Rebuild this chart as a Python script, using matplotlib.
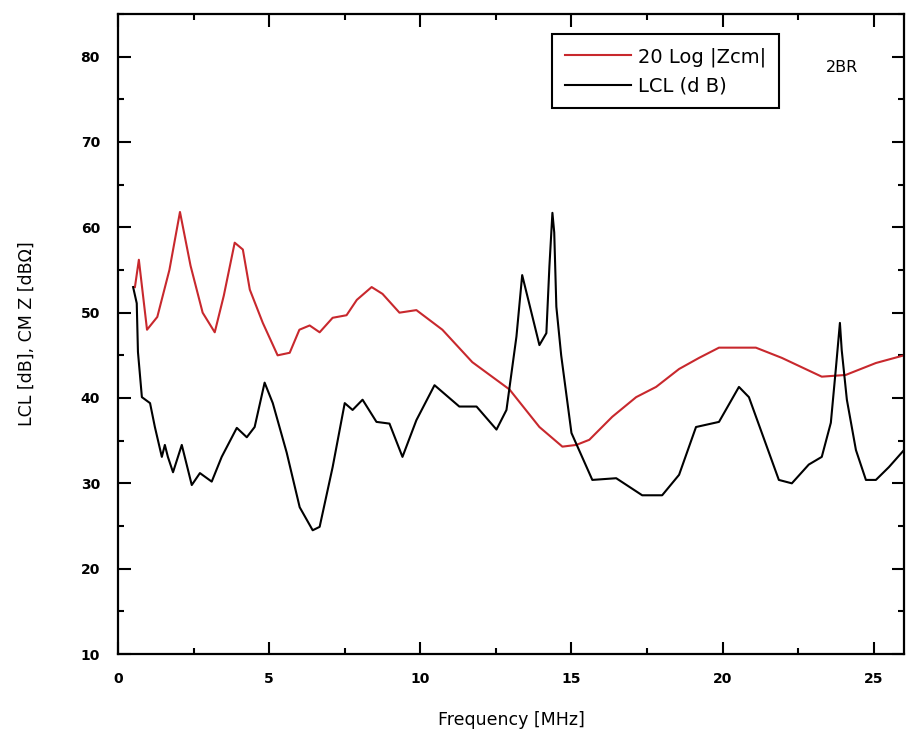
import matplotlib
matplotlib.use("Agg")
import matplotlib.pyplot as plt
from matplotlib.ticker import MultipleLocator

# 20 Log |Zcm| (red)
zcm_freq = [0.56, 0.69, 0.96, 1.3, 1.7, 2.05, 2.4, 2.8, 3.2, 3.5, 3.86, 4.13, 4.36, 4.79,
            5.28, 5.68, 6.0, 6.34, 6.67, 7.1, 7.56, 7.9, 8.39, 8.75, 9.31, 9.87, 10.73,
            11.72, 12.95, 13.94, 14.7, 15.16, 15.59, 16.35, 17.14, 17.8, 18.56, 19.22,
            19.88, 21.1, 21.96, 22.62, 23.28, 24.07, 25.07, 26.0]
zcm_db = [53.0, 56.2, 48.0, 49.5, 55.0, 61.8, 55.5, 50.0, 47.7, 52.0, 58.2, 57.4, 52.7, 48.8,
          45.0, 45.3, 48.0, 48.5, 47.7, 49.4, 49.7, 51.5, 53.0, 52.2, 50.0, 50.3, 48.0,
          44.2, 41.0, 36.6, 34.3, 34.5, 35.1, 37.8, 40.1, 41.3, 43.4, 44.7,
          45.9, 45.9, 44.7, 43.6, 42.5, 42.7, 44.1, 45.0]

# LCL (dB) (black)
lcl_freq = [0.5, 0.62, 0.66, 0.79, 1.06, 1.22, 1.45, 1.55, 1.65, 1.82, 2.11, 2.44, 2.71,
            3.1, 3.43, 3.93, 4.26, 4.52, 4.85, 5.12, 5.58, 6.01, 6.44, 6.67, 7.1, 7.5,
            7.76, 8.09, 8.55, 8.98, 9.41, 9.87, 10.47, 11.29, 11.86, 12.52, 12.85, 13.18,
            13.37, 13.6, 13.94, 14.17, 14.27, 14.37, 14.43, 14.5, 14.66, 15.0, 15.69,
            16.48, 17.34, 18.0, 18.56, 19.12, 19.88, 20.54, 20.87, 21.86, 22.29, 22.85,
            23.28, 23.58, 23.75, 23.88, 23.94, 24.11, 24.41, 24.74, 25.07, 25.5, 26.0]
lcl_db = [53.0, 51.1, 45.4, 40.1, 39.4, 36.6, 33.1, 34.5, 33.1, 31.3, 34.5, 29.8, 31.2,
          30.2, 33.1, 36.5, 35.4, 36.6, 41.8, 39.4, 33.6, 27.2, 24.5, 24.9, 31.9, 39.4,
          38.6, 39.8, 37.2, 37.0, 33.1, 37.4, 41.5, 39.0, 39.0, 36.3, 38.6, 47.2,
          54.4, 51.1, 46.2, 47.6, 55.4, 61.7, 59.4, 50.7, 45.0, 35.9, 30.4,
          30.6, 28.6, 28.6, 31.0, 36.6, 37.2, 41.3, 40.1, 30.4, 30.0, 32.2,
          33.1, 37.1, 43.6, 48.8, 45.6, 39.8, 33.9, 30.4, 30.4, 31.9, 33.9]

x_ticks = [0, 5, 10, 15, 20, 25]
y_ticks = [10, 20, 30, 40, 50, 60, 70, 80]

fig = plt.figure(figsize=(9.06, 7.37), dpi=100)
ax = fig.add_axes([118/906, 1-654/737, (904-118)/906, (654-14)/737])

ax.plot(zcm_freq, zcm_db, color="#c8282d", lw=1.5, label="20 Log |Zcm|")
ax.plot(lcl_freq, lcl_db, color="black", lw=1.5, label="LCL (d B)")

ax.set_xlim(0, 26)
ax.set_ylim(10, 85)
ax.set_xticks(x_ticks)
ax.set_yticks(y_ticks)
ax.xaxis.set_minor_locator(MultipleLocator(2.5))
ax.yaxis.set_minor_locator(MultipleLocator(5))
ax.tick_params(which="both", direction="in", top=True, right=True, width=1.5)
ax.tick_params(which="major", length=9, labelsize=10)
ax.tick_params(which="minor", length=4)
ax.tick_params(axis="x", which="major", pad=13)
ax.tick_params(axis="y", which="major", pad=13)
for lab in ax.get_xticklabels() + ax.get_yticklabels():
    lab.set_fontweight("bold")
for s in ax.spines.values():
    s.set_linewidth(1.6)

ax.set_xlabel("Frequency [MHz]", fontsize=12.5, labelpad=18)
ax.set_ylabel("LCL [dB], CM Z [dB\u03a9]", fontsize=12.5, labelpad=32)

leg = ax.legend(loc="upper left", bbox_to_anchor=(0.552, 0.968), fontsize=14,
                handlelength=3.4, frameon=True, fancybox=False, framealpha=1,
                edgecolor="black", borderpad=0.65, labelspacing=0.5, handletextpad=0.4,
                borderaxespad=0)
leg.get_frame().set_linewidth(1.5)

ax.text(0.90, 0.916, "2BR", transform=ax.transAxes, fontsize=11.5, va="center", ha="left")

fig.savefig("out.png", dpi=100)
